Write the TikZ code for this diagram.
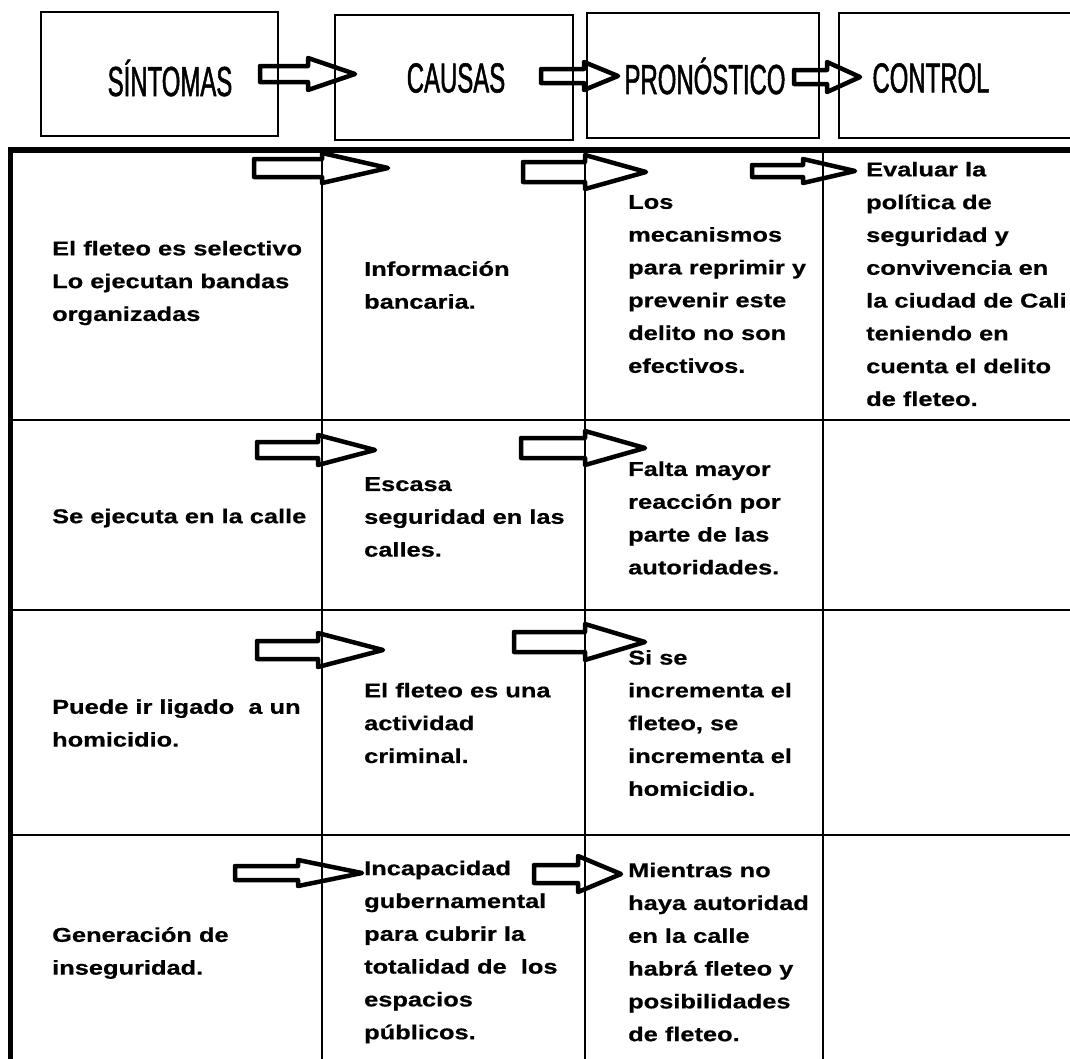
\documentclass[tikz,border=0pt]{standalone}
\usepackage{fontspec}
\setmainfont{Liberation Sans}
\newfontfamily\cellfamily[FakeStretch=1.27, FakeBold=0.6, UprightFont={* Bold}]{Liberation Sans}
\newfontfamily\headfamily[FakeStretch=0.57, FakeBold=1.2]{Liberation Sans}
% outline arrow: x0, head base, tip, y, shaft half, head half
\newcommand\fatarrow[6]{%
  \draw[fat] (#1,#4-#5) -- (#2,#4-#5) -- (#2,#4-#6) -- (#3,#4) -- (#2,#4+#6) -- (#2,#4+#5) -- (#1,#4+#5) -- cycle;}
\tikzset{
  fat/.style={line width=4.5pt, line join=round},
  hdrbox/.style={line width=2pt},
  gridline/.style={line width=2.5pt},
  cell/.style={anchor=west, align=left, inner sep=0pt, font=\cellfamily\fontsize{20}{32.8}\selectfont},
  hdr/.style={inner sep=0pt, font=\headfamily\fontsize{42}{42}\selectfont}
}
\begin{document}
\begin{tikzpicture}[x=1pt, y=-1pt]
        \useasboundingbox (0,0) rectangle (1070,1058);
        \clip (0,0) rectangle (1070,1058);

        % header boxes
        \draw[hdrbox] (41,12) rectangle (278,136);
        \draw[hdrbox] (335,15) rectangle (573,140);
        \draw[hdrbox] (587,13) rectangle (819,138);
        \draw[hdrbox] (839,13) rectangle (1090,138);

        \node[hdr] (sint) at (170,78) {SÍNTOMAS};
        \node[hdr] (caus) at (456,78) {CAUSAS};
        \node[hdr] (pron) at (705,76) {PRONÓSTICO};
        \node[hdr] (ctrl) at (931,78) {CONTROL};

        % table
        \draw[line width=6pt] (8,150) -- (1070,150);
        \draw[line width=5pt] (10,147) -- (10,1060);
        \draw[gridline] (322,150) -- (322,1060);
        \draw[gridline] (585,150) -- (585,1060);
        \draw[gridline] (823,150) -- (823,1060);
        \draw[gridline] (10,420) -- (1070,420);
        \draw[gridline] (10,610) -- (1070,610);
        \draw[gridline] (10,835) -- (1070,835);

        % arrows
        \fatarrow{260}{308}{355}{74}{8}{16}
        \fatarrow{541}{584}{618}{76}{7}{14}
        \fatarrow{794}{827}{860}{77}{7}{15}
        \fatarrow{254}{322}{388}{168}{9}{15}
        \fatarrow{523}{585}{646}{172}{10}{17}
        \fatarrow{752}{803}{855}{171}{6}{12}
        \fatarrow{257}{318}{375}{450}{8}{15}
        \fatarrow{521}{585}{645}{448}{10}{17}
        \fatarrow{257}{318}{383}{650}{9}{17}
        \fatarrow{514}{585}{645}{642}{10}{18}
        \fatarrow{235}{298}{362}{873}{7}{13}
        \fatarrow{534}{578}{621}{874}{9}{18}

        % row 1
        \node[cell] (sin1) at (52,283) {El fleteo es selectivo\\Lo ejecutan bandas\\organizadas};
        \node[cell] (cau1) at (364,285) {Información\\bancaria.};
        \node[cell] (pro1) at (628,284) {Los\\mecanismos\\para reprimir y\\prevenir este\\delito no son\\efectivos.};
        \node[cell] (con1) at (866,284) {Evaluar la\\política de\\seguridad y\\convivencia en\\la ciudad de Cali\\teniendo en\\cuenta el delito\\de fleteo.};
        % row 2
        \node[cell] (sin2) at (52,518) {Se ejecuta en la calle};
        \node[cell] (cau2) at (364,517) {Escasa\\seguridad en las\\calles.};
        \node[cell] (pro2) at (628,518) {Falta mayor\\reacción por\\parte de las\\autoridades.};
        % row 3
        \node[cell] (sin3) at (52,723) {Puede ir ligado\ \ a un\\homicidio.};
        \node[cell] (cau3) at (364,723) {El fleteo es una\\actividad\\criminal.};
        \node[cell] (pro3) at (628,723) {Si se\\incrementa el\\fleteo, se\\incrementa el\\homicidio.};
        % row 4
        \node[cell] (sin4) at (52,953) {Generación de\\inseguridad.};
        \node[cell] (cau4) at (364,952) {Incapacidad\\gubernamental\\para cubrir la\\totalidad de\ \ los\\espacios\\públicos.};
        \node[cell] (pro4) at (628,952) {Mientras no\\haya autoridad\\en la calle\\habrá fleteo y\\posibilidades\\de fleteo.};
    \end{tikzpicture}
\end{document}
